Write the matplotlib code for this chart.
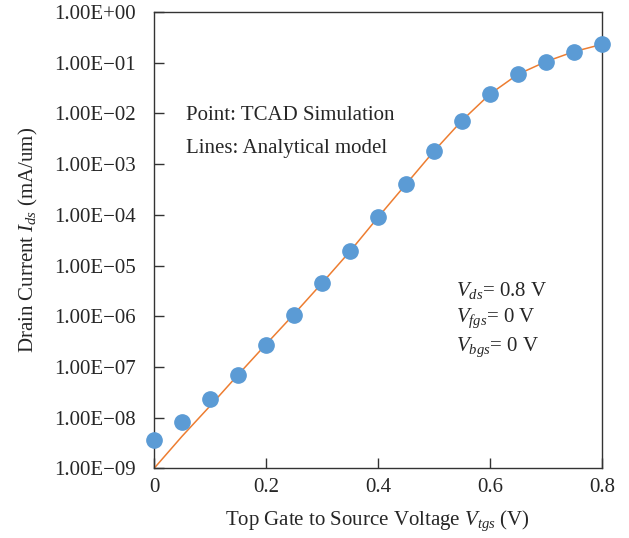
import numpy as np
import matplotlib
matplotlib.use('Agg')
import matplotlib.pyplot as plt
from matplotlib.ticker import FixedLocator, FuncFormatter

plt.rcParams['font.family'] = ['Liberation Serif', 'DejaVu Serif']
plt.rcParams['mathtext.fontset'] = 'custom'
plt.rcParams['mathtext.rm'] = 'Liberation Serif'
plt.rcParams['mathtext.it'] = 'Liberation Serif:italic'
plt.rcParams['font.size'] = 15

# Data
vtgs = [0.0, 0.05, 0.1, 0.15, 0.2, 0.25, 0.3, 0.35, 0.4,
        0.45, 0.5, 0.55, 0.6, 0.65, 0.7, 0.75, 0.8]
ids_tcad = [3.6e-9, 8.1e-9, 2.3e-8, 7.1e-8, 2.7e-7, 1.05e-6, 4.5e-6, 1.9e-5, 8.9e-5,
            4.0e-4, 1.8e-3, 7.2e-3, 2.4e-2, 5.9e-2, 0.105, 0.165, 0.23]
ids_model = [1.0e-9, 4.3e-9, 1.7e-8, 7.0e-8, 2.8e-7, 1.1e-6, 4.5e-6, 1.9e-5, 8.9e-5,
             4.0e-4, 1.8e-3, 7.2e-3, 2.4e-2, 5.9e-2, 0.105, 0.165, 0.23]
xticks = [0, 0.2, 0.4, 0.6, 0.8]
yticks = [10.0 ** k for k in range(-9, 1)]

fig = plt.figure(figsize=(6.29, 5.38), dpi=100)
ax = fig.add_axes([0.2448, 0.1292, 0.712, 0.8485])

ax.plot(vtgs, ids_model, color='#ED7D31', linewidth=1.1, zorder=2)
ax.plot(vtgs, ids_tcad, 'o', color='#5B9BD5', markersize=11, zorder=3, clip_on=False)

ax.set_yscale('log')
ax.set_xlim(0, 0.8)
ax.set_ylim(1e-9, 1e0)
ax.yaxis.set_major_locator(FixedLocator(yticks))
ax.yaxis.set_minor_locator(FixedLocator([]))
ax.yaxis.set_major_formatter(FuncFormatter(lambda v, p: f'{v:.2E}'.replace('-', '\u2212')))
ax.set_xticks(xticks)
ax.set_xticklabels(['0', '0.2', '0.4', '0.6', '0.8'])

ax.tick_params(axis='both', direction='in', length=7.5, width=1.0, colors='#333333',
               labelcolor='#262626')
ax.tick_params(axis='y', pad=13)
ax.tick_params(axis='x', pad=7)
for s in ax.spines.values():
    s.set_color('#333333')
    s.set_linewidth(1.0)

ax.set_xlabel(r'Top Gate to Source Voltage $V_{tgs}$ (V)', color='#262626', labelpad=8)
ax.set_ylabel(r'Drain Current $I_{ds}$ (mA/um)', color='#262626', labelpad=10)

ax.text(0.071, 0.774, 'Point: TCAD Simulation', transform=ax.transAxes,
        va='center', color='#262626')
ax.text(0.071, 0.700, 'Lines: Analytical model', transform=ax.transAxes,
        va='center', color='#262626')
ax.text(0.674, 0.391, r'$V_{ds}$= 0.8 V', transform=ax.transAxes, va='center', color='#262626')
ax.text(0.674, 0.330, r'$V_{fgs}$= 0 V', transform=ax.transAxes, va='center', color='#262626')
ax.text(0.674, 0.266, r'$V_{bgs}$= 0 V', transform=ax.transAxes, va='center', color='#262626')

plt.savefig('out.png', dpi=100)
